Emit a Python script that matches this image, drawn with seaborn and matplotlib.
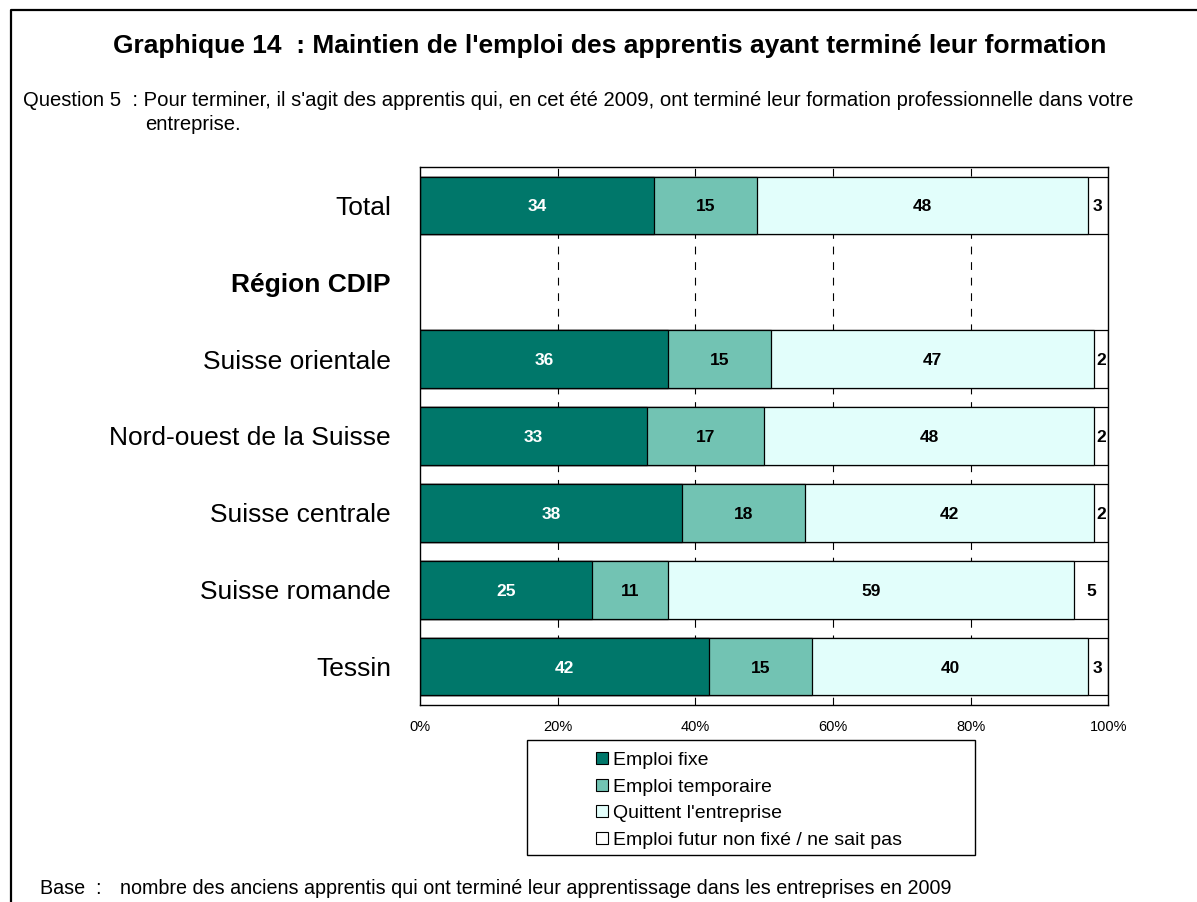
import matplotlib.pyplot as plt
import matplotlib.patches as mpatches
from matplotlib.lines import Line2D
import seaborn as sns
import pandas as pd
import numpy as np

# --- data ---
categories = ['Total', 'Région CDIP', 'Suisse orientale', 'Nord-ouest de la Suisse',
              'Suisse centrale', 'Suisse romande', 'Tessin']
emploi_fixe = [34, np.nan, 36, 33, 38, 25, 42]
emploi_temp = [15, np.nan, 15, 17, 18, 11, 15]
quittent = [48, np.nan, 47, 48, 42, 59, 40]
non_fixe = [3, np.nan, 2, 2, 2, 5, 3]

series = ['Emploi fixe', 'Emploi temporaire', "Quittent l'entreprise",
          'Emploi futur non fixé / ne sait pas']
colors = ['#00776A', '#72C3B3', '#E2FEFB', '#FFFFFF']
text_colors = ['white', 'black', 'black', 'black']

df = pd.DataFrame({'cat': categories,
                   series[0]: emploi_fixe, series[1]: emploi_temp,
                   series[2]: quittent, series[3]: non_fixe})
cum = df[series].cumsum(axis=1)

sns.set_style("white")
plt.rcParams['font.family'] = ['Liberation Sans', 'DejaVu Sans']
plt.rcParams['text.color'] = 'black'
plt.rcParams['xtick.color'] = 'black'
plt.rcParams['ytick.color'] = 'black'

fig = plt.figure(figsize=(11.97, 9.02), dpi=100)
ax = fig.add_axes([0.351, 0.2184, 0.5748, 0.5965])

# stacked bars: draw cumulative totals from right to left
for s, c in reversed(list(zip(series, colors))):
    sns.barplot(x=cum[s], y=df['cat'], order=categories, orient='h', color=c,
                saturation=1, edgecolor='black', linewidth=0.9, width=0.75,
                ax=ax, zorder=2)

# value labels
for i in range(len(categories)):
    left = 0
    for s, tc in zip(series, text_colors):
        v = df[s].iloc[i]
        if np.isnan(v):
            continue
        ax.text(left + v / 2, i + 0.02, f"{v:.0f}", ha='center', va='center',
                color=tc, fontsize=12.5, fontweight='bold', zorder=3)
        left += v

ax.set_xlim(0, 100)
ax.set_ylim(len(categories) - 0.5, -0.5)
ax.set_xticks([0, 20, 40, 60, 80, 100])
ax.set_xticklabels([f"{t}%" for t in [0, 20, 40, 60, 80, 100]], fontsize=10.5)
for x in [20, 40, 60, 80]:
    ax.axvline(x, color='black', linestyle=(0, (7, 7)), linewidth=0.8, zorder=1)
ax.tick_params(axis='both', length=0)
ax.tick_params(axis='x', pad=11)
ax.tick_params(axis='y', pad=21, labelsize=19)
ax.set_xlabel('')
ax.set_ylabel('')
for lbl in ax.get_yticklabels():
    if lbl.get_text() == 'Région CDIP':
        lbl.set_fontweight('bold')
for sp in ax.spines.values():
    sp.set_visible(True)
    sp.set_color('black')
    sp.set_linewidth(1.0)

# legend (frame drawn separately)
fig.patches.append(mpatches.Rectangle((527 / 1197, 1 - 855 / 902), 448 / 1197, 115 / 902,
                                      transform=fig.transFigure, fill=False,
                                      edgecolor='black', linewidth=1.0))
handles = [mpatches.Patch(facecolor=c, edgecolor='black', linewidth=0.8) for c in colors]
fig.legend(handles, series, loc='upper left', bbox_to_anchor=(596 / 1197, 1 - 752 / 902),
           frameon=False, fontsize=14, handlelength=0.6, handleheight=0.6,
           handletextpad=0.25, labelspacing=0.49, borderpad=0, borderaxespad=0)

# texts
fig.text(610 / 1197, 1 - 46 / 902,
         "Graphique 14  : Maintien de l'emploi des apprentis ayant terminé leur formation",
         ha='center', va='center', fontsize=19, fontweight='bold')
fig.text(23 / 1197, 1 - 101 / 902,
         "Question 5  : Pour terminer, il s'agit des apprentis qui, en cet été 2009, ont terminé "
         "leur formation professionnelle dans votre",
         ha='left', va='center', fontsize=14.6)
fig.text(145 / 1197, 1 - 124 / 902, "entreprise.", ha='left', va='center', fontsize=14.6)
fig.text(40 / 1197, 1 - 888 / 902, "Base  :", ha='left', va='center', fontsize=14.2)
fig.text(120 / 1197, 1 - 888 / 902,
         "nombre des anciens apprentis qui ont terminé leur apprentissage dans les "
         "entreprises en 2009",
         ha='left', va='center', fontsize=14.2)

# outer frame (left and top edges)
fig.add_artist(Line2D([11 / 1197, 11 / 1197, 1], [0, 1 - 10 / 902, 1 - 10 / 902],
                      transform=fig.transFigure, color='black', linewidth=1.6))

fig.savefig('out.png', dpi=100)
